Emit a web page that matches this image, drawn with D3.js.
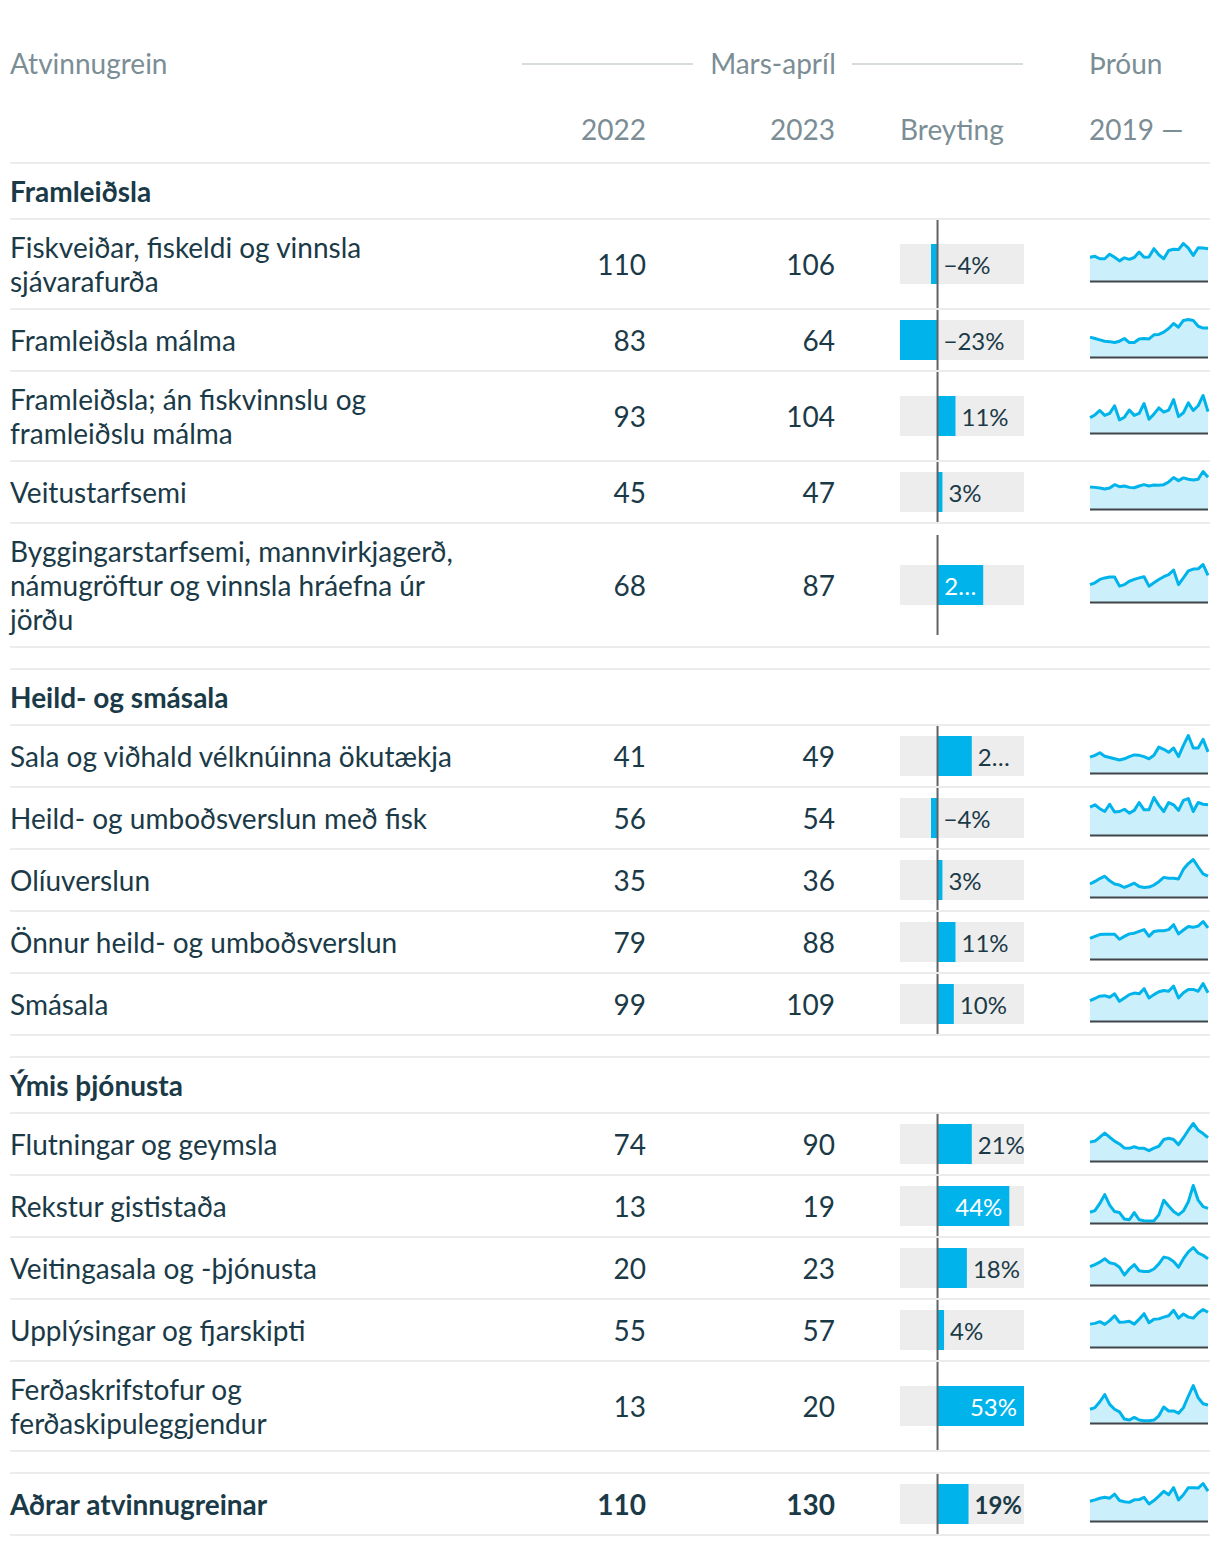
<!DOCTYPE html>
<html>
<head>
<meta charset="utf-8">
<script src="https://cdn.jsdelivr.net/npm/d3@7"></script>
<style>
  html, body { margin: 0; padding: 0; background: #fff; }
  svg { display: block; font-family: Lato, "Noto Sans", sans-serif; }
</style>
</head>
<body>
<svg id="chart" width="1220" height="1546"></svg>
<script>
// ---------- DATA ----------
const headerLabels = ["Atvinnugrein", "Mars-apríl", "Þróun", "2022", "2023", "Breyting", "2019 —"];
const groups = ["Framleiðsla", "Heild- og smásala", "Ýmis þjónusta", ""];
const categories = [
  "Fiskveiðar, fiskeldi og vinnsla\nsjávarafurða",
  "Framleiðsla málma",
  "Framleiðsla; án fiskvinnslu og\nframleiðslu málma",
  "Veitustarfsemi",
  "Byggingarstarfsemi, mannvirkjagerð,\nnámugröftur og vinnsla hráefna úr\njörðu",
  "Sala og viðhald vélknúinna ökutækja",
  "Heild- og umboðsverslun með fisk",
  "Olíuverslun",
  "Önnur heild- og umboðsverslun",
  "Smásala",
  "Flutningar og geymsla",
  "Rekstur gististaða",
  "Veitingasala og -þjónusta",
  "Upplýsingar og fjarskipti",
  "Ferðaskrifstofur og\nferðaskipuleggjendur",
  "Aðrar atvinnugreinar"
];
const groupOf = [0,0,0,0,0,1,1,1,1,1,2,2,2,2,2,3];
const values2022 = [110, 83, 93, 45, 68, 41, 56, 35, 79, 99, 74, 13, 20, 55, 13, 110];
const values2023 = [106, 64, 104, 47, 87, 49, 54, 36, 88, 109, 90, 19, 23, 57, 20, 130];
const changePct = [-4, -23, 11, 3, 28, 21, -4, 3, 11, 10, 21, 44, 18, 4, 53, 19];
const changeLabels = ["−4%", "−23%", "11%", "3%", "2…", "2…", "−4%", "3%", "11%", "10%", "21%", "44%", "18%", "4%", "53%", "19%"];

const trend1  = [78,81,73,73,88,78,66,76,71,77,95,78,79,106,86,73,100,104,103,123,108,84,109,108,106];
const trend2  = [44,41,38,35,34,32,35,41,32,32,40,41,40,49,50,55,63,74,66,81,83,81,68,64,64];
const trend3  = [75,88,110,86,96,133,64,77,112,86,96,144,67,92,123,102,112,163,80,99,147,110,133,183,104];
const trend4  = [32.6,32,31,29.6,31,36,33,34,32,31.5,34,36,34,35.5,35,36,40,46.5,42,46,44,43,44,55.5,47];
const trend5  = [57,63,74,79,82,82,52,57,68,74,79,83,52,63,74,83,90,105,57,79,102,108,109,123,87];
const trend6  = [37,41,47,39,36,33,30,33,38,42,41,38,33,41,60,55,48,58,38,64,87,58,58,78,49];
const trend7  = [50,54,47,42,55,41,42,46,39,44,58,45,45,67,53,42,58,54,44,62,65,42,58,55,54];
const trend8  = [22.5,27,32,36,28,22.5,20.7,16.5,20,24,18.3,16.5,17.2,20.7,26.6,34,32.4,32.4,31.3,48,58,65,52,40,36];
const trend9  = [58,64,69,70,70,70,56,64,71,73,78,83,64,78,80,80,83,97,71,82,92,90,93,106,88];
const trend10 = [79,87,96,98,92,105,76,89,102,108,105,125,89,102,113,118,115,135,89,109,122,122,115,145,109];
const trend11 = [73,77,92,108,92,77,66,50,49,55,49,49,40,50,57,83,88,83,63,90,119,145,119,106,90];
const trend12 = [13.9,16,25.3,36.7,23.2,14.8,13.5,5.1,4.2,13.5,4.2,2.9,2.5,2.9,10.5,29.5,21.9,14.8,10.5,15.6,27.5,48.5,29.5,21.1,19];
const trend13 = [16.1,17.9,20,23,19.4,18.5,15.5,8.7,14,17.9,12.5,11.9,11.9,14,18.5,24.4,23.5,20.6,15.5,23,28.9,32.8,28,26,23];
const trend14 = [37.6,38.8,41.6,37.1,43.3,51.3,40.5,41,42.2,37.6,45.7,54.7,39.8,45.7,46.2,49.1,51.3,60.4,47.4,54.2,49.1,47.4,55.9,61.6,57];
const trend15 = [15.3,17.1,23.7,31.7,20.8,15.3,12.4,4.4,3.3,6.2,3.3,2.5,2.5,3.3,8,17.8,13.4,13.4,10.9,17.1,29.8,41.8,28.1,21.5,20];
const trend16 = [86,92,99,103,99,117,89,84,81,92,93,103,74,89,108,129,114,145,92,114,145,145,143,163,130];
const trends = [trend1,trend2,trend3,trend4,trend5,trend6,trend7,trend8,trend9,trend10,trend11,trend12,trend13,trend14,trend15,trend16];

// ---------- STYLE ----------
const C = {
  text: "#1b3a47",
  head: "#7b8d95",
  sep: "#ececec",
  blue: "#00b4eb",
  blueLight: "#ccf0fb",
  barBg: "#ededed",
  zero: "#5f6366",
  base: "#3f4548"
};
const FS = 28;
const LABEL_FS = 24;
const LINE_H = 34;

const svg = d3.select("#chart");

// ---------- HEADER ----------
const hdr = svg.append("g").attr("fill", C.head).style("font-size", FS + "px");
hdr.append("text").attr("x", 10).attr("y", 64).attr("dy", "0.36em").text(headerLabels[0]);
hdr.append("text").attr("x", 773).attr("y", 64).attr("dy", "0.36em").attr("text-anchor", "middle").text(headerLabels[1]);
hdr.append("text").attr("x", 1089).attr("y", 64).attr("dy", "0.36em").text(headerLabels[2]);
hdr.append("text").attr("x", 646).attr("y", 130).attr("dy", "0.36em").attr("text-anchor", "end").text(headerLabels[3]);
hdr.append("text").attr("x", 835).attr("y", 130).attr("dy", "0.36em").attr("text-anchor", "end").text(headerLabels[4]);
hdr.append("text").attr("x", 900).attr("y", 130).attr("dy", "0.36em").text(headerLabels[5]);
hdr.append("text").attr("x", 1089).attr("y", 130).attr("dy", "0.36em").text(headerLabels[6]);
svg.append("line").attr("x1", 522).attr("x2", 693).attr("y1", 64).attr("y2", 64).attr("stroke", "#c9d0d3").attr("stroke-width", 1.5);
svg.append("line").attr("x1", 852).attr("x2", 1023).attr("y1", 64).attr("y2", 64).attr("stroke", "#c9d0d3").attr("stroke-width", 1.5);
svg.append("rect").attr("x", 10).attr("y", 162).attr("width", 1200).attr("height", 2).attr("fill", C.sep);

// ---------- LAYOUT (rows) ----------
const rowHeightByLines = {1: 62, 2: 90, 3: 124};
const layout = [];
let y = 163;
let prevGroup = -1;
categories.forEach((cat, i) => {
  const g = groupOf[i];
  if (g !== prevGroup) {
    if (prevGroup !== -1) {
      y += 22;
      svg.append("rect").attr("x", 10).attr("y", y - 1).attr("width", 1200).attr("height", 2).attr("fill", C.sep);
    }
    if (groups[g]) {
      svg.append("text").attr("x", 10).attr("y", y + 29).attr("dy", "0.36em")
        .attr("fill", C.text).style("font-size", FS + "px").style("font-weight", 700).text(groups[g]);
      y += 56;
      svg.append("rect").attr("x", 10).attr("y", y - 1).attr("width", 1200).attr("height", 2).attr("fill", C.sep);
    }
    prevGroup = g;
  }
  const lines = cat.split("\n");
  const h = rowHeightByLines[lines.length];
  layout.push({i, top: y, h, center: y + h / 2, lines, bold: g === 3});
  y += h;
  svg.append("rect").attr("x", 10).attr("y", y - 1).attr("width", 1200).attr("height", 2).attr("fill", C.sep);
});

// ---------- SCALES ----------
const xBar = d3.scaleLinear().domain([d3.min(changePct), d3.max(changePct)]).range([900, 1024]);
const xSpark = d3.scaleLinear().domain([0, trends[0].length - 1]).range([1090, 1208]);

// ---------- ROWS ----------
const rows = svg.selectAll("g.row").data(layout).join("g").attr("class", "row");

rows.each(function(d) {
  const g = d3.select(this);
  const weight = d.bold ? 700 : 400;
  // label
  const t = g.append("text").attr("fill", C.text).style("font-size", FS + "px").style("font-weight", weight);
  const n = d.lines.length;
  d.lines.forEach((ln, k) => {
    t.append("tspan").attr("x", 10).attr("y", d.center + (k - (n - 1) / 2) * LINE_H + 1).attr("dy", "0.36em").text(ln);
  });
  // numbers
  g.append("text").attr("x", 646).attr("y", d.center + 1).attr("dy", "0.36em").attr("text-anchor", "end")
    .attr("fill", C.text).style("font-size", FS + "px").style("font-weight", weight).text(values2022[d.i]);
  g.append("text").attr("x", 835).attr("y", d.center + 1).attr("dy", "0.36em").attr("text-anchor", "end")
    .attr("fill", C.text).style("font-size", FS + "px").style("font-weight", weight).text(values2023[d.i]);

  // bar cell
  const v = changePct[d.i];
  const x0 = xBar(0), x1 = xBar(v);
  g.append("rect").attr("x", xBar.range()[0]).attr("y", d.center - 20).attr("width", xBar.range()[1] - xBar.range()[0]).attr("height", 40).attr("fill", C.barBg);
  g.append("rect").attr("x", Math.min(x0, x1)).attr("y", d.center - 20).attr("width", Math.abs(x1 - x0)).attr("height", 40).attr("fill", C.blue);
  const zh = Math.min(d.h - 2, 100);
  g.append("line").attr("x1", x0).attr("x2", x0).attr("y1", d.center - zh / 2).attr("y2", d.center + zh / 2)
    .attr("stroke", C.zero).attr("stroke-width", 2);

  const lab = g.append("text").attr("y", d.center + 1).attr("dy", "0.36em").style("font-size", LABEL_FS + "px").style("font-weight", weight).text(v + "%");
  const w = lab.node().getComputedTextLength();
  lab.text(changeLabels[d.i]);
  if (v < 0) {
    lab.attr("x", x0 + 6).attr("fill", C.text);
  } else if (x1 + w > xBar.range()[1]) {
    lab.attr("x", x1 - 7).attr("text-anchor", "end").attr("fill", "#fff");
  } else {
    lab.attr("x", x1 + 6).attr("fill", C.text);
  }

  // sparkline
  const data = trends[d.i];
  const base = d.center + 17;
  const ySpark = d3.scaleLinear().domain([0, d3.max(data)]).range([base, base - 37.5]);
  g.append("path").datum(data)
    .attr("d", d3.area().x((p, k) => xSpark(k)).y0(base).y1(p => ySpark(p)))
    .attr("fill", C.blueLight);
  g.append("path").datum(data)
    .attr("d", d3.line().x((p, k) => xSpark(k)).y(p => ySpark(p)))
    .attr("fill", "none").attr("stroke", C.blue).attr("stroke-width", 3).attr("stroke-linejoin", "round");
  g.append("line").attr("x1", xSpark.range()[0]).attr("x2", xSpark.range()[1]).attr("y1", base + 0.5).attr("y2", base + 0.5)
    .attr("stroke", C.base).attr("stroke-width", 2);
});
</script>
</body>
</html>
